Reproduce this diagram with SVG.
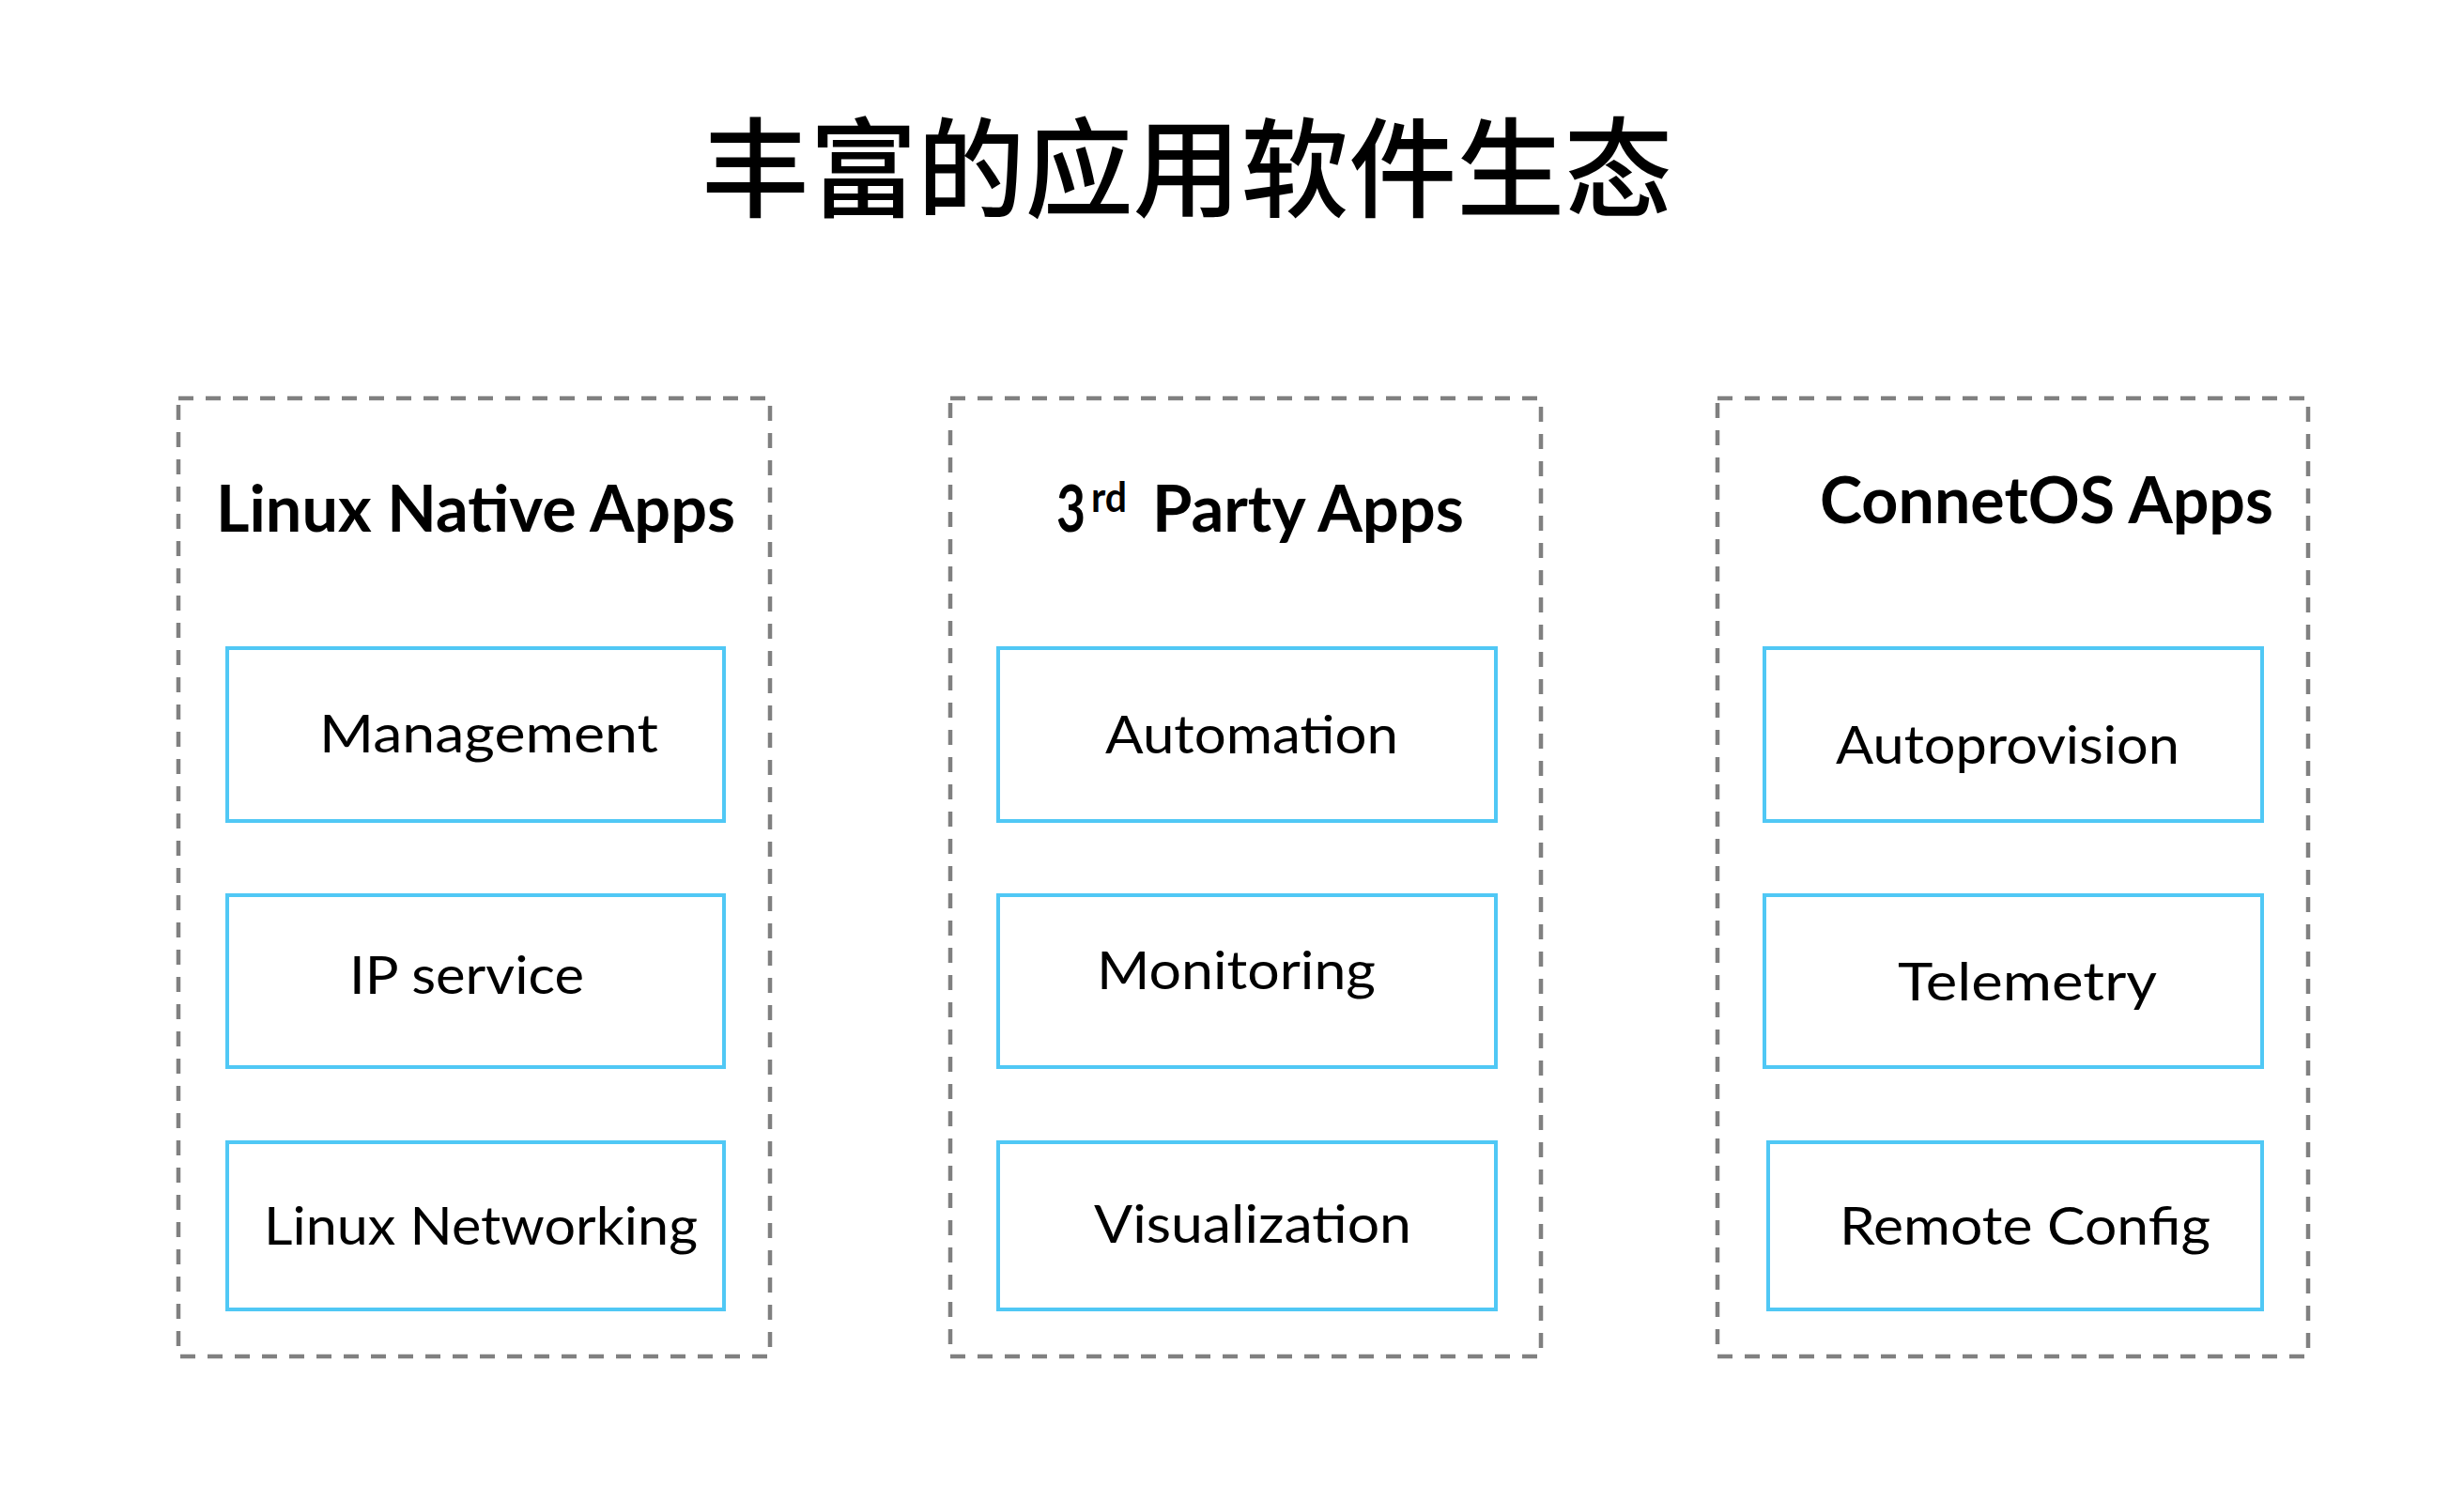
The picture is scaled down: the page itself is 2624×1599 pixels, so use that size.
<svg xmlns="http://www.w3.org/2000/svg" width="2624" height="1599" viewBox="0 0 2624 1599">
<style>
.group{fill:none;stroke:#808080;stroke-width:4.5;stroke-dasharray:16 13}
.app{fill:#ffffff;stroke:#50C8F5;stroke-width:4}
.title{font-family:"Noto Sans CJK SC","Noto Sans",sans-serif;font-weight:500;font-size:115px;fill:#000}
.head{font-family:Lato,"Liberation Sans",sans-serif;font-weight:700;font-size:69px;fill:#000}
.lbl{font-family:Lato,"Liberation Sans",sans-serif;font-weight:400;font-size:57px;fill:#000}
</style>
<rect width="2624" height="1599" fill="#ffffff"/>
<text id="title" class="title" x="747" y="222" textLength="1034" lengthAdjust="spacingAndGlyphs">丰富的应用软件生态</text>

<g id="group-linux">
<rect class="group" x="190" y="424" width="630" height="1020"/>
<text class="head" x="230" y="566" textLength="553" lengthAdjust="spacingAndGlyphs">Linux Native Apps</text>
</g>
<g id="group-3rd">
<rect class="group" x="1012" y="424" width="629" height="1020"/>
<text class="head" x="1125" y="566" textLength="31" lengthAdjust="spacingAndGlyphs">3</text>
<text class="head" x="1162" y="545" style="font-size:44px" textLength="38" lengthAdjust="spacingAndGlyphs">rd</text>
<text class="head" x="1227" y="566" textLength="332" lengthAdjust="spacingAndGlyphs">Party Apps</text>
</g>
<g id="group-connetos">
<rect class="group" x="1829" y="424" width="629" height="1020"/>
<text class="head" x="1938" y="557" textLength="483" lengthAdjust="spacingAndGlyphs">ConnetOS Apps</text>
</g>

<g id="management"><rect class="app" x="242" y="690" width="529" height="184"/><text class="lbl" x="340" y="801" textLength="361" lengthAdjust="spacingAndGlyphs">Management</text></g>
<g id="ip-service"><rect class="app" x="242" y="953" width="529" height="183"/><text class="lbl" x="372" y="1058" textLength="250" lengthAdjust="spacingAndGlyphs">IP service</text></g>
<g id="linux-networking"><rect class="app" x="242" y="1216" width="529" height="178"/><text class="lbl" x="281" y="1325" textLength="462" lengthAdjust="spacingAndGlyphs">Linux Networking</text></g>

<g id="automation"><rect class="app" x="1063" y="690" width="530" height="184"/><text class="lbl" x="1177" y="802" textLength="312" lengthAdjust="spacingAndGlyphs">Automation</text></g>
<g id="monitoring"><rect class="app" x="1063" y="953" width="530" height="183"/><text class="lbl" x="1168" y="1053" textLength="297" lengthAdjust="spacingAndGlyphs">Monitoring</text></g>
<g id="visualization"><rect class="app" x="1063" y="1216" width="530" height="178"/><text class="lbl" x="1165" y="1323" textLength="338" lengthAdjust="spacingAndGlyphs">Visualization</text></g>

<g id="autoprovision"><rect class="app" x="1879" y="690" width="530" height="184"/><text class="lbl" x="1955" y="813" textLength="366" lengthAdjust="spacingAndGlyphs">Autoprovision</text></g>
<g id="telemetry"><rect class="app" x="1879" y="953" width="530" height="183"/><text class="lbl" x="2021" y="1065" textLength="276" lengthAdjust="spacingAndGlyphs">Telemetry</text></g>
<g id="remote-config"><rect class="app" x="1883" y="1216" width="526" height="178"/><text class="lbl" x="1959" y="1325" textLength="395" lengthAdjust="spacingAndGlyphs">Remote Config</text></g>

<g id="connectors"></g>
</svg>
